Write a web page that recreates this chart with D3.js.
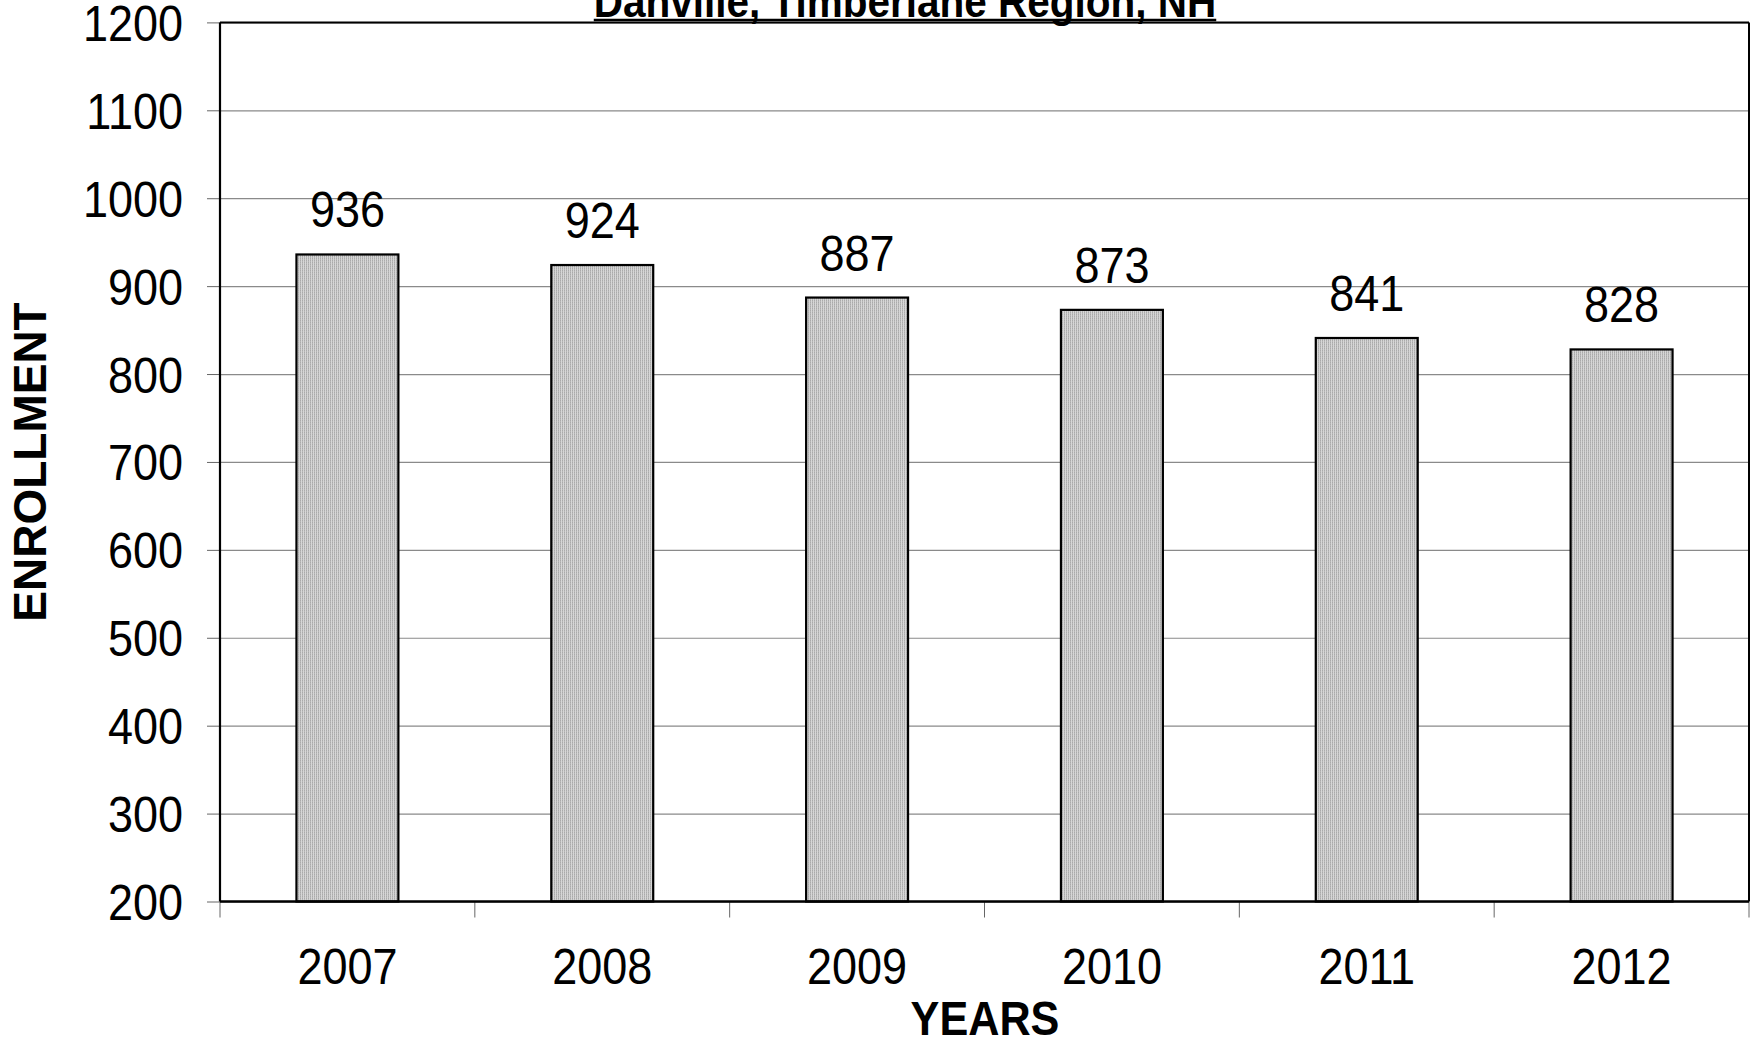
<!DOCTYPE html>
<html>
<head>
<meta charset="utf-8">
<script src="https://cdn.jsdelivr.net/npm/d3@7"></script>
<style>
  body { margin: 0; background: #fff; }
  text { font-family: "Liberation Sans", Arial, sans-serif; fill: #000; }
</style>
</head>
<body>
<script>
var years = ["2007", "2008", "2009", "2010", "2011", "2012"];
var enrollment = [936, 924, 887, 873, 841, 828];
var yTicks = [200, 300, 400, 500, 600, 700, 800, 900, 1000, 1100, 1200];
var title = "Danville, Timberlane Region, NH";

var width = 1756,
    height = 1043;
var margin = {top: 22.4, right: 7, bottom: 141.5, left: 220};
var w = width - margin.left - margin.right,
    h = height - margin.top - margin.bottom;
var sx = 0.9; // text in the scan is a bit narrow

var svg = d3.select("body").append("svg")
            .attr("width", width)
            .attr("height", height);

// stipple fill for the bars
var pat = svg.append("defs").append("pattern")
             .attr("id", "dots")
             .attr("width", 2).attr("height", 2)
             .attr("patternUnits", "userSpaceOnUse");
pat.append("rect").attr("width", 2).attr("height", 2).attr("fill", "#d6d6d6");
pat.append("rect").attr("width", 1).attr("height", 1).attr("fill", "#8c8c8c");

var g = svg.append("g")
           .attr("transform", "translate(" + margin.left + "," + margin.top + ")");

var x = d3.scaleBand()
          .domain(years)
          .range([0, w])
          .paddingInner(0.6)
          .paddingOuter(0.3);

var y = d3.scaleLinear()
          .domain([200, 1200])
          .range([h, 0]);

// gridlines
g.append("g")
 .call(d3.axisLeft(y).tickValues(yTicks).tickSize(-w).tickFormat(""))
 .call(function(a) {
   a.select(".domain").remove();
   a.selectAll("line").attr("stroke", "#8a8a8a").attr("stroke-width", 1.2);
 });

// y axis with labels
g.append("g")
 .call(d3.axisLeft(y).tickValues(yTicks).tickFormat(d3.format("d")).tickSize(13).tickPadding(24))
 .call(function(a) {
   a.select(".domain").remove();
   a.selectAll("line").attr("stroke", "#666");
   a.selectAll("text")
    .attr("font-size", 50)
    .attr("font-family", "Liberation Sans, Arial, sans-serif")
    .attr("x", -37 / sx)
    .attr("dy", "0.36em")
    .attr("transform", "scale(" + sx + ",1)");
 });

// bars
g.selectAll(".bar")
 .data(enrollment)
 .enter().append("rect")
 .attr("class", "bar")
 .attr("x", function(d, i) { return x(years[i]); })
 .attr("y", function(d) { return y(d); })
 .attr("width", x.bandwidth())
 .attr("height", function(d) { return h - y(d); })
 .attr("fill", "url(#dots)")
 .attr("stroke", "#000")
 .attr("stroke-width", 2.2);

// value labels
g.selectAll(".val")
 .data(enrollment)
 .enter().append("g")
 .attr("transform", function(d, i) {
   return "translate(" + (x(years[i]) + x.bandwidth() / 2) + "," + (y(d) - 27) + ") scale(" + sx + ",1)";
 })
 .append("text")
 .attr("text-anchor", "middle")
 .attr("font-size", 50)
 .text(function(d) { return d; });

// x axis labels
g.append("g")
 .attr("transform", "translate(0," + h + ")")
 .call(d3.axisBottom(x).tickSize(0))
 .call(function(a) {
   a.select(".domain").remove();
   a.selectAll("text")
    .attr("font-size", 50)
    .attr("font-family", "Liberation Sans, Arial, sans-serif")
    .attr("y", 83)
    .attr("dy", null)
    .attr("transform", "scale(" + sx + ",1)")
    .attr("x", 0);
 });

// x tick marks at category boundaries
var bounds = years.map(function(d) { return x(d) - x.step() * x.paddingInner() / 2; });
bounds.push(w);
g.selectAll(".xtick")
 .data(bounds)
 .enter().append("line")
 .attr("x1", function(d) { return d; })
 .attr("x2", function(d) { return d; })
 .attr("y1", h)
 .attr("y2", h + 16)
 .attr("stroke", "#666")
 .attr("stroke-width", 1);

// frame
g.append("line").attr("x1", 0).attr("x2", w).attr("y1", 0).attr("y2", 0)
 .attr("stroke", "#000").attr("stroke-width", 2);
g.append("line").attr("x1", w).attr("x2", w).attr("y1", 0).attr("y2", h)
 .attr("stroke", "#000").attr("stroke-width", 2);
g.append("line").attr("x1", 0).attr("x2", 0).attr("y1", 0).attr("y2", h)
 .attr("stroke", "#000").attr("stroke-width", 2.2);
g.append("line").attr("x1", 0).attr("x2", w).attr("y1", h).attr("y2", h)
 .attr("stroke", "#000").attr("stroke-width", 2.5);

// axis titles
svg.append("text")
   .attr("transform", "translate(46,462) rotate(-90)")
   .attr("text-anchor", "middle")
   .attr("font-size", 46)
   .attr("font-weight", "bold")
   .text("ENROLLMENT");

svg.append("g")
   .attr("transform", "translate(985,1035) scale(" + sx + ",1)")
   .append("text")
   .attr("text-anchor", "middle")
   .attr("font-size", 48)
   .attr("font-weight", "bold")
   .text("YEARS");

// title, cut off at the top of the page
var tg = svg.append("g")
            .attr("transform", "translate(905,17) scale(" + sx + ",1)");
var tt = tg.append("text")
           .attr("text-anchor", "middle")
           .attr("font-size", 45)
           .attr("font-weight", "bold")
           .text(title);
var tl = tt.node().getComputedTextLength();
tg.append("line")
  .attr("x1", -tl / 2).attr("x2", tl / 2)
  .attr("y1", 3).attr("y2", 3)
  .attr("stroke", "#000").attr("stroke-width", 2.5);
</script>
</body>
</html>
